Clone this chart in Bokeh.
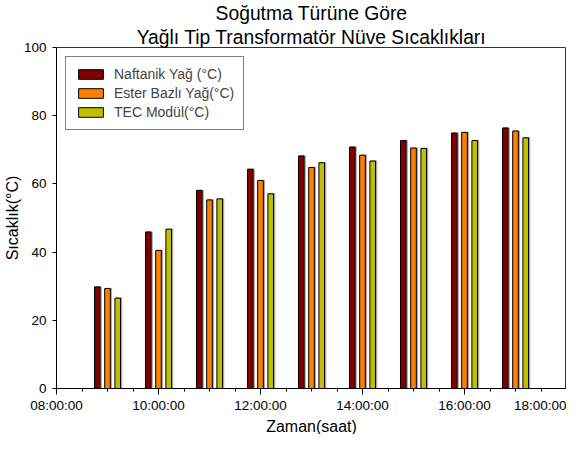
from bokeh.plotting import figure
from bokeh.models import FixedTicker, Range1d, Legend, LegendItem, Title
from bokeh.transform import dodge
from bokeh.models import ColumnDataSource
from bokeh.embed import file_html
from bokeh.resources import INLINE

# ---- data ----
hours = [9, 10, 11, 12, 13, 14, 15, 16, 17]
naftanik = [29.8, 45.9, 58.1, 64.3, 68.2, 70.8, 72.7, 74.9, 76.4]
ester = [29.3, 40.5, 55.3, 61.0, 64.8, 68.4, 70.5, 75.1, 75.5]
tec = [26.5, 46.7, 55.6, 57.1, 66.2, 66.7, 70.4, 72.7, 73.5]
series_names = ["Naftanik Yağ (°C)", "Ester Bazlı Yağ(°C)", "TEC Modül(°C)"]
series_colors = ["#800000", "#FF8000", "#C0C000"]
x_ticks = [8, 10, 12, 14, 16, 18]
x_tick_labels = ["08:00:00", "10:00:00", "12:00:00", "14:00:00", "16:00:00", "18:00:00"]
x_minor = [8.5, 9, 9.5, 10.5, 11, 11.5, 12.5, 13, 13.5, 14.5, 15, 15.5, 16.5, 17, 17.5]
y_ticks = [0, 20, 40, 60, 80, 100]
title_lines = ["Soğutma Türüne Göre", "Yağlı Tip Transformatör Nüve Sıcaklıkları"]
x_label = "Zaman(saat)"
y_label = "Sıcaklık(°C)"

FONT = "Liberation Sans"

src = ColumnDataSource(dict(x=hours, a=naftanik, b=ester, c=tec))

p = figure(width=566, height=434, output_backend="svg", toolbar_location=None,
           x_range=Range1d(8, 18), y_range=Range1d(0, 100),
           min_border_left=0, min_border_right=0, min_border_top=0, min_border_bottom=0)

def style_title(t, standoff, size="19.3px"):
    t.align = "center"
    t.text_font = FONT
    t.text_font_size = size
    t.text_font_style = "normal"
    t.text_color = "black"
    t.standoff = standoff
    t.offset = 0

p.title.text = title_lines[0]
style_title(p.title, 1)
t2 = Title(text=title_lines[1])
style_title(t2, 0)
p.add_layout(t2, "above")

p.xgrid.visible = False
p.ygrid.visible = False
p.outline_line_color = "#333333"
p.outline_line_width = 1

offsets = [-0.2, 0.0, 0.2]
cols = ["a", "b", "c"]
items = []
for col, off, color, name in zip(cols, offsets, series_colors, series_names):
    p.vbar(x=dodge("x", off + 0.02, range=p.x_range), top=col, width=0.11, source=src,
           fill_color="#a8a8a8", line_color="#a8a8a8", line_width=1.5)
    r = p.vbar(x=dodge("x", off, range=p.x_range), top=col, width=0.11, source=src,
               fill_color=color, line_color="black", line_width=1)
    items.append(LegendItem(label=name, renderers=[r]))

legend = Legend(items=items, location="top_left")
legend.label_text_font = FONT
legend.label_text_font_size = "14px"
legend.glyph_width = 31
legend.glyph_height = 12
legend.label_height = 15
legend.label_standoff = 8
legend.spacing = 3
legend.padding = 9
legend.margin = 9
legend.border_line_color = "black"
legend.border_line_width = 1
legend.background_fill_alpha = 1
p.add_layout(legend, "center")

# axes
for ax in (p.xaxis[0], p.yaxis[0]):
    ax.axis_line_color = "black"
    ax.major_tick_line_color = "black"
    ax.minor_tick_line_color = "black"
    ax.major_tick_in = 0
    ax.minor_tick_in = 0
    ax.major_label_text_font = FONT
    ax.major_label_text_font_size = "13.5px"
    ax.major_label_text_color = "black"

p.xaxis.ticker = FixedTicker(ticks=x_ticks, minor_ticks=x_minor)
p.xaxis.major_label_overrides = {t: l for t, l in zip(x_ticks, x_tick_labels)}
p.xaxis.major_tick_out = 6
p.xaxis.minor_tick_out = 3
p.xaxis.major_label_standoff = 3

xt = Title(text=x_label)
style_title(xt, 0, "16px")
p.add_layout(xt, "below")

p.yaxis.ticker = FixedTicker(ticks=y_ticks, minor_ticks=[])
p.yaxis.major_tick_out = 4
p.yaxis.major_label_standoff = 6
p.yaxis.axis_label = y_label
p.yaxis.axis_label_text_font = FONT
p.yaxis.axis_label_text_font_size = "16px"
p.yaxis.axis_label_text_font_style = "normal"
p.yaxis.axis_label_text_color = "black"
p.yaxis.axis_label_standoff = 0

open("out.html", "w").write(file_html(p, INLINE))
